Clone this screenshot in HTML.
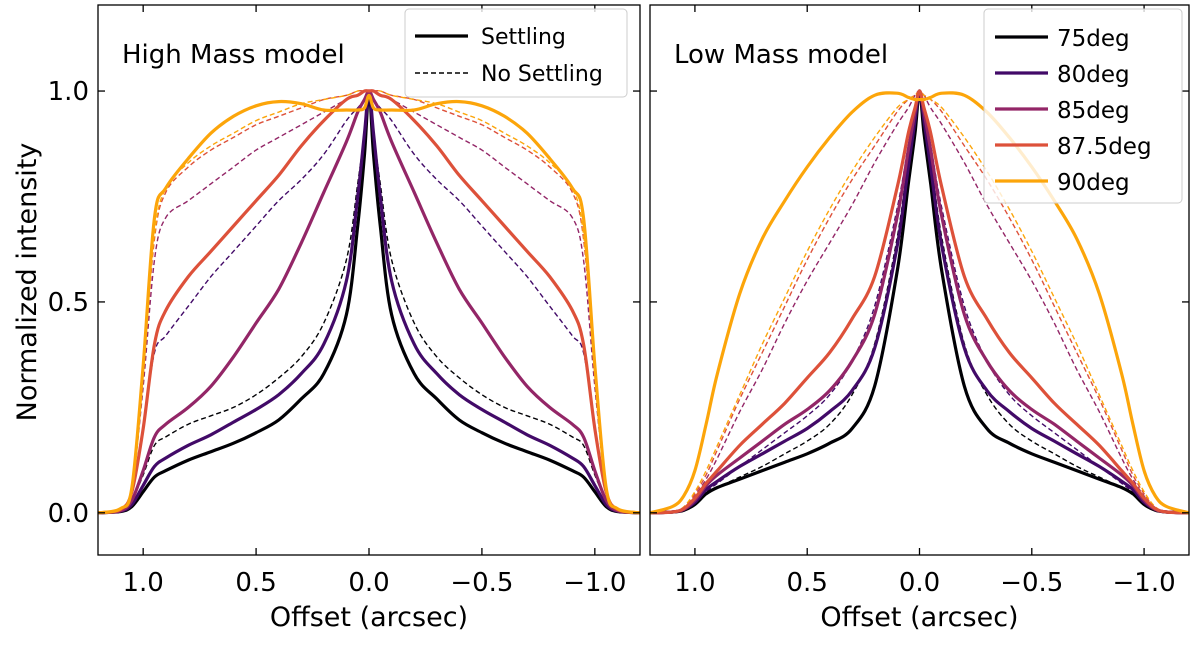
<!DOCTYPE html>
<html><head><meta charset="utf-8"><style>
body{margin:0;background:#fff;}
svg text{font-family:"DejaVu Sans","Liberation Sans",sans-serif;fill:#000;}
</style></head><body>
<svg id="chart" width="1200" height="643" viewBox="0 0 1200 643" xmlns="http://www.w3.org/2000/svg">
<g id="panels"></g>
</svg>
<script>
// offsets (arcsec, absolute) at which profiles are sampled
const offsets = [0,0.02,0.05,0.1,0.2,0.3,0.4,0.5,0.6,0.7,0.8,0.9,0.95,1.0,1.05,1.1,1.2];
const inclinations = ["75deg","80deg","85deg","87.5deg","90deg"];
const xTicks = [1.0,0.5,0.0,-0.5,-1.0];
const xTickLabels = ["1.0","0.5","0.0","\u22120.5","\u22121.0"];
const yTicks = [0.0,0.5,1.0];
const yTickLabels = ["0.0","0.5","1.0"];
// High mass, settling
const hmS75 = [1,0.85,0.68,0.47,0.33,0.27,0.22,0.19,0.165,0.145,0.125,0.1,0.085,0.05,0.015,0.003,0];
const hmS80 = [1,0.9,0.75,0.55,0.4,0.33,0.28,0.245,0.215,0.185,0.16,0.13,0.11,0.065,0.02,0.004,0];
const hmS85 = [1,0.98,0.95,0.88,0.76,0.64,0.53,0.45,0.37,0.3,0.25,0.21,0.18,0.1,0.03,0.005,0];
const hmS875 = [1,1,0.99,0.98,0.93,0.87,0.8,0.74,0.68,0.62,0.56,0.48,0.4,0.2,0.05,0.008,0];
const hmS90 = [0.99,0.96,0.955,0.955,0.955,0.97,0.975,0.965,0.94,0.9,0.84,0.77,0.7,0.35,0.06,0.01,0];
// High mass, no settling
const hmD75 = [1,0.9,0.78,0.6,0.45,0.37,0.32,0.28,0.25,0.23,0.21,0.18,0.16,0.09,0.03,0.005,0];
const hmD80 = [1,0.98,0.96,0.93,0.85,0.79,0.74,0.68,0.62,0.56,0.49,0.42,0.38,0.2,0.05,0.008,0];
const hmD85 = [1,1,0.99,0.98,0.95,0.92,0.89,0.86,0.82,0.78,0.74,0.7,0.6,0.3,0.06,0.01,0];
const hmD875 = [1,1,1,0.99,0.98,0.96,0.94,0.92,0.89,0.86,0.82,0.76,0.65,0.33,0.06,0.01,0];
const hmD90 = [1,1,1,0.99,0.98,0.97,0.95,0.93,0.9,0.87,0.83,0.77,0.66,0.34,0.06,0.01,0];
// Low mass, settling
const lmS75 = [1,0.9,0.78,0.57,0.3,0.2,0.165,0.14,0.12,0.1,0.08,0.06,0.045,0.02,0.006,0.002,0];
const lmS80 = [1,0.93,0.82,0.63,0.39,0.29,0.24,0.2,0.17,0.14,0.11,0.075,0.055,0.025,0.008,0.002,0];
const lmS85 = [1,0.95,0.86,0.7,0.47,0.36,0.29,0.245,0.21,0.17,0.13,0.09,0.065,0.03,0.008,0.002,0];
const lmS875 = [1,0.96,0.9,0.77,0.56,0.46,0.38,0.32,0.26,0.21,0.16,0.1,0.07,0.035,0.01,0.002,0];
const lmS90 = [0.98,0.98,0.985,0.995,0.99,0.95,0.89,0.82,0.74,0.65,0.52,0.33,0.21,0.1,0.04,0.015,0];
// Low mass, no settling
const lmD75 = [1,0.94,0.84,0.65,0.4,0.28,0.21,0.17,0.14,0.11,0.085,0.06,0.045,0.02,0.006,0.002,0];
const lmD80 = [1,0.95,0.87,0.72,0.49,0.36,0.28,0.23,0.19,0.15,0.11,0.07,0.05,0.025,0.007,0.002,0];
const lmD85 = [1,0.99,0.96,0.92,0.83,0.73,0.64,0.55,0.45,0.34,0.24,0.13,0.08,0.04,0.01,0.003,0];
const lmD875 = [1,0.99,0.98,0.95,0.87,0.79,0.7,0.6,0.49,0.38,0.27,0.15,0.09,0.045,0.012,0.003,0];
const lmD90 = [1,0.99,0.98,0.96,0.89,0.81,0.72,0.62,0.51,0.4,0.28,0.16,0.1,0.05,0.014,0.003,0];

const colors = ["#000004","#420a68","#932667","#dd513a","#fca50a"];
const NS = "http://www.w3.org/2000/svg";
const root = document.getElementById("panels");
function mk(tag, attrs, parent){const e=document.createElementNS(NS,tag);for(const k in attrs)e.setAttribute(k,attrs[k]);(parent||root).appendChild(e);return e;}

const panels = [
 {x0:98,x1:640,title:"High Mass model",name:"high-mass",S:[hmS75,hmS80,hmS85,hmS875,hmS90],D:[hmD75,hmD80,hmD85,hmD875,hmD90]},
 {x0:650,x1:1189,title:"Low Mass model",name:"low-mass",S:[lmS75,lmS80,lmS85,lmS875,lmS90],D:[lmD75,lmD80,lmD85,lmD875,lmD90]}
];
const yTop=5,yBot=555,yMin=-0.1,yMax=1.204;
function ys(v){return yBot-(v-yMin)/(yMax-yMin)*(yBot-yTop);}

function pathFrom(pts){
  let d="M"+pts[0][0].toFixed(1)+","+pts[0][1].toFixed(1);
  for(let i=0;i<pts.length-1;i++){
    const p0=pts[Math.max(0,i-1)],p1=pts[i],p2=pts[i+1],p3=pts[Math.min(pts.length-1,i+2)];
    const c1=[p1[0]+(p2[0]-p0[0])/6,p1[1]+(p2[1]-p0[1])/6];
    const c2=[p2[0]-(p3[0]-p1[0])/6,p2[1]-(p3[1]-p1[1])/6];
    d+=" C"+c1[0].toFixed(1)+","+c1[1].toFixed(1)+" "+c2[0].toFixed(1)+","+c2[1].toFixed(1)+" "+p2[0].toFixed(1)+","+p2[1].toFixed(1);
  }
  return d;
}

panels.forEach(p=>{
  const g=mk("g",{});
  
  
  const xs=v=>p.x0+(1.2-v)/2.4*(p.x1-p.x0);
  const clip=mk("clipPath",{id:"clip-"+p.name},g);
  mk("rect",{x:p.x0,y:yTop,width:p.x1-p.x0,height:yBot-yTop},clip);
  const lines=mk("g",{"clip-path":"url(#clip-"+p.name+")"},g);
  function curve(arr,i,dashed){
    const pts=[];
    for(let k=offsets.length-1;k>=0;k--)pts.push([xs(offsets[k]),ys(arr[k])]);
    for(let k=1;k<offsets.length;k++)pts.push([xs(-offsets[k]),ys(arr[k])]);
    const el=mk("path",{d:pathFrom(pts),fill:"none",stroke:colors[i],"stroke-width":dashed?1.4:3.2,"stroke-dasharray":dashed?"5,3":"none","stroke-linejoin":"round"},lines);
    
    
  }
  p.D.forEach((a,i)=>curve(a,i,true));
  p.S.forEach((a,i)=>curve(a,i,false));
  const frame=mk("rect",{x:p.x0,y:yTop,width:p.x1-p.x0,height:yBot-yTop,fill:"none",stroke:"#000","stroke-width":1.3},g);
  
  
  xTicks.forEach((t,i)=>{
    const x=xs(t);
    mk("line",{x1:x,x2:x,y1:yBot,y2:yBot-7,stroke:"#000","stroke-width":1.3},g);
    mk("line",{x1:x,x2:x,y1:yTop,y2:yTop+7,stroke:"#000","stroke-width":1.3},g);
    const tl=mk("text",{x:x,y:591,"font-size":26,"text-anchor":"middle"},g);
    tl.textContent=xTickLabels[i];
    
    
  });
  yTicks.forEach((t,i)=>{
    const y=ys(t);
    mk("line",{x1:p.x0,x2:p.x0+7,y1:y,y2:y,stroke:"#000","stroke-width":1.3},g);
    mk("line",{x1:p.x1,x2:p.x1-7,y1:y,y2:y,stroke:"#000","stroke-width":1.3},g);
    if(p.x0<200){
      const tl=mk("text",{x:p.x0-9,y:y+9,"font-size":26,"text-anchor":"end"},g);
      tl.textContent=yTickLabels[i];
      
      
    }
  });
  const tt=mk("text",{x:p.x0+24,y:63,"font-size":26},g);
  tt.textContent=p.title;
  
  
  const xl=mk("text",{x:(p.x0+p.x1)/2,y:626,"font-size":27,"text-anchor":"middle"},g);
  xl.textContent="Offset (arcsec)";
  
  
});

// y axis title
const yl=mk("text",{x:0,y:0,"font-size":27,"text-anchor":"middle",transform:"translate(36,282) rotate(-90)"});
yl.textContent="Normalized intensity";



// left legend
const lg1=mk("g",{});


mk("rect",{x:405,y:9,width:222,height:88,rx:4,fill:"#fff","fill-opacity":0.8,stroke:"#ccc"},lg1);
const legS=[["Settling",false],["No Settling",true]];
legS.forEach((e,i)=>{
  const y=36+i*37;
  mk("line",{x1:415,x2:468,y1:y,y2:y,stroke:"#000","stroke-width":e[1]?1.4:3.2,"stroke-dasharray":e[1]?"5,3":"none"},lg1);
  const t=mk("text",{x:481,y:y+8,"font-size":22},lg1);
  t.textContent=e[0];
  
  
});
// right legend
const lg2=mk("g",{});


mk("rect",{x:984,y:9,width:198,height:194,rx:4,fill:"#fff","fill-opacity":0.8,stroke:"#ccc"},lg2);
inclinations.forEach((n,i)=>{
  const y=37+i*36;
  mk("line",{x1:995,x2:1048,y1:y,y2:y,stroke:colors[i],"stroke-width":3.2},lg2);
  const t=mk("text",{x:1057,y:y+9,"font-size":23},lg2);
  t.textContent=n;
  
  
});
</script>
</body></html>
